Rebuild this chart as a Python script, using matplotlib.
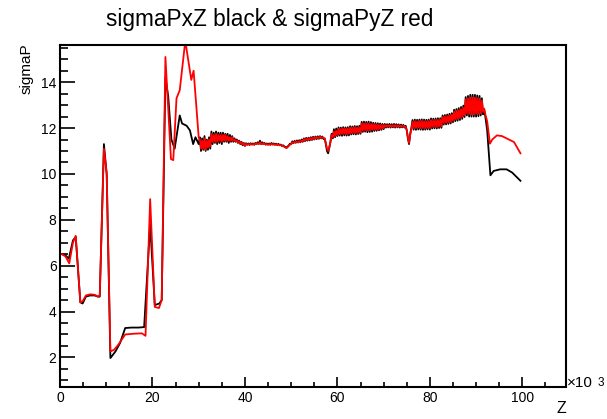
import matplotlib
matplotlib.use("Agg")
import matplotlib.pyplot as plt
import numpy as np
from matplotlib.ticker import MultipleLocator

plt.rcParams['font.family'] = ['Liberation Sans', 'DejaVu Sans']

# --- data (z in units of 10^3) ---
# first part, irregular steps
z_left_black = [0.4, 1.2, 1.9, 2.8, 3.4, 4.4, 4.9, 5.6, 6.5, 7.5, 8.2, 8.6, 9.5, 10.1, 10.9,
                12.0, 13.0, 14.1, 15.5, 17.0, 18.2, 19.5, 20.5, 21.5, 22.0, 22.8, 23.4, 24.1,
                24.8, 25.9, 26.4, 27.4, 28.1, 28.8, 29.3, 30.0]
black_left = [6.5, 6.45, 6.3, 7.1, 7.25, 4.4, 4.35, 4.65, 4.7, 4.7, 4.65, 4.65, 11.3, 10.0, 1.97,
              2.26, 2.63, 3.28, 3.3, 3.3, 3.32, 7.8, 4.28, 4.35, 4.5, 14.2, 13.4, 11.5,
              11.1, 12.55, 12.2, 12.1, 11.9, 11.3, 11.6, 11.3]

z_left_red = [0.4, 1.2, 2.0, 2.8, 3.4, 4.4, 4.9, 5.6, 6.5, 7.5, 8.2, 8.6, 9.5, 10.1, 10.9,
              11.7, 12.6, 14.1, 15.9, 17.7, 18.5, 19.5, 20.5, 21.4, 22.0, 22.8, 24.0, 24.5,
              25.2, 25.9, 26.6, 27.1, 28.4, 28.9, 30.0]
red_left = [6.5, 6.4, 6.1, 7.0, 7.3, 4.4, 4.45, 4.7, 4.75, 4.73, 4.65, 4.7, 11.1, 10.0, 2.26,
            2.33, 2.55, 3.0, 3.03, 3.05, 2.94, 8.9, 4.2, 4.15, 4.5, 15.1, 10.65, 10.6,
            13.3, 13.65, 14.9, 15.8, 14.1, 14.5, 11.6]

# middle part, z = 30.25 ... 92.0 every 0.25
z_mid = np.arange(30.25, 92.01, 0.25)
black_mid = [
    11.6, 11.0, 11.55, 11.05, 11.65, 11.0, 11.5, 11.05, 11.6, 11.1,
    11.85, 11.3, 11.8, 11.35, 11.85, 11.3, 11.8, 11.35, 11.8, 11.3,
    11.8, 11.4, 11.75, 11.4, 11.75, 11.35, 11.7, 11.4, 11.65, 11.4,
    11.55, 11.4, 11.5, 11.35, 11.45, 11.3, 11.4, 11.25, 11.35, 11.22,
    11.34, 11.27, 11.33, 11.26, 11.34, 11.28, 11.33, 11.27, 11.35, 11.3,
    11.38, 11.32, 11.45, 11.3, 11.38, 11.3, 11.35, 11.28, 11.33, 11.28,
    11.33, 11.27, 11.35, 11.28, 11.33, 11.27, 11.32, 11.26, 11.31, 11.25,
    11.28, 11.22, 11.25, 11.2, 11.18, 11.15, 11.2, 11.25, 11.32, 11.3,
    11.42, 11.34, 11.44, 11.36, 11.46, 11.37, 11.47, 11.38, 11.5, 11.4,
    11.55, 11.43, 11.57, 11.45, 11.58, 11.46, 11.6, 11.48, 11.62, 11.5,
    11.63, 11.52, 11.64, 11.53, 11.65, 11.55, 11.63, 11.52, 11.55, 11.3,
    11.0, 10.9, 11.15, 11.4, 11.75, 11.55, 11.95, 11.6, 11.98, 11.65,
    12.03, 11.67, 12.02, 11.66, 12.04, 11.68, 12.03, 11.67, 12.04, 11.68,
    12.08, 11.72, 12.07, 11.73, 12.09, 11.72, 12.08, 11.74, 12.1, 11.75,
    12.27, 11.83, 12.28, 11.84, 12.27, 11.82, 12.28, 11.83, 12.26, 11.84,
    12.23, 11.87, 12.22, 11.88, 12.21, 11.9, 12.2, 11.92, 12.18, 11.95,
    12.18, 12.02, 12.17, 12.03, 12.18, 12.02, 12.17, 12.03, 12.18, 12.02,
    12.17, 12.03, 12.16, 12.02, 12.15, 12.03, 12.14, 12.02, 12.1, 11.9,
    11.55, 11.3, 11.75, 12.0, 12.35, 11.93, 12.37, 11.92, 12.36, 11.94,
    12.37, 11.93, 12.38, 11.92, 12.37, 11.93, 12.36, 11.94, 12.37, 11.93,
    12.42, 11.98, 12.41, 11.99, 12.42, 11.98, 12.43, 12.0, 12.43, 12.01,
    12.55, 12.15, 12.57, 12.16, 12.59, 12.18, 12.62, 12.2, 12.65, 12.25,
    12.8, 12.3, 12.83, 12.32, 12.87, 12.35, 12.92, 12.4, 12.98, 12.48,
    13.35, 12.55, 13.4, 12.5, 13.45, 12.5, 13.45, 12.5, 13.45, 12.5,
    13.42, 12.52, 13.4, 12.55, 13.3, 12.6, 12.8, 12.5]
red_mid = [
    11.5, 11.1, 11.45, 11.1, 11.55, 11.05, 11.45, 11.15, 11.5, 11.2,
    11.75, 11.4, 11.7, 11.4, 11.75, 11.4, 11.7, 11.45, 11.7, 11.4,
    11.7, 11.45, 11.7, 11.45, 11.65, 11.45, 11.6, 11.45, 11.6, 11.45,
    11.5, 11.42, 11.45, 11.38, 11.42, 11.32, 11.38, 11.28, 11.32, 11.24,
    11.31, 11.28, 11.3, 11.27, 11.31, 11.28, 11.3, 11.28, 11.32, 11.3,
    11.33, 11.3, 11.38, 11.3, 11.33, 11.3, 11.32, 11.28, 11.3, 11.27,
    11.3, 11.27, 11.31, 11.28, 11.3, 11.27, 11.29, 11.26, 11.28, 11.25,
    11.26, 11.22, 11.22, 11.18, 11.15, 11.12, 11.17, 11.22, 11.28, 11.3,
    11.38, 11.35, 11.4, 11.37, 11.42, 11.38, 11.43, 11.4, 11.45, 11.42,
    11.52, 11.46, 11.53, 11.48, 11.55, 11.49, 11.56, 11.5, 11.58, 11.52,
    11.6, 11.55, 11.6, 11.56, 11.62, 11.57, 11.6, 11.55, 11.55, 11.35,
    11.1, 11.0, 11.15, 11.4, 11.7, 11.6, 11.85, 11.65, 11.88, 11.7,
    11.97, 11.73, 11.96, 11.74, 11.98, 11.75, 11.97, 11.74, 11.98, 11.75,
    12.02, 11.78, 12.01, 11.79, 12.03, 11.78, 12.02, 11.8, 12.03, 11.8,
    12.2, 11.9, 12.2, 11.9, 12.2, 11.9, 12.2, 11.9, 12.18, 11.92,
    12.17, 11.93, 12.16, 11.94, 12.15, 11.95, 12.14, 11.97, 12.13, 11.99,
    12.13, 12.06, 12.12, 12.07, 12.13, 12.06, 12.12, 12.07, 12.13, 12.06,
    12.12, 12.06, 12.11, 12.06, 12.1, 12.06, 12.1, 12.05, 12.06, 11.92,
    11.6, 11.35, 11.7, 11.95, 12.27, 12.0, 12.3, 12.0, 12.28, 12.02,
    12.3, 12.0, 12.31, 12.0, 12.3, 12.0, 12.29, 12.01, 12.3, 12.0,
    12.35, 12.05, 12.34, 12.06, 12.35, 12.05, 12.36, 12.07, 12.36, 12.08,
    12.48, 12.22, 12.5, 12.23, 12.52, 12.25, 12.55, 12.27, 12.58, 12.32,
    12.72, 12.38, 12.75, 12.4, 12.78, 12.43, 12.83, 12.48, 12.88, 12.56,
    13.25, 12.65, 13.3, 12.62, 13.33, 12.6, 13.33, 12.6, 13.33, 12.62,
    13.3, 12.62, 13.28, 12.65, 13.2, 12.7, 12.85, 12.6]

# last part
z_right_black = [92.4, 93.1, 93.8, 95.2, 96.6, 97.8, 99.6]
black_right = [11.9, 9.94, 10.13, 10.2, 10.2, 10.06, 9.7]
z_right_red = [92.4, 93.0, 93.5, 94.5, 95.6, 97.1, 98.2, 99.6]
red_right = [12.3, 11.32, 11.5, 11.68, 11.65, 11.5, 11.39, 10.9]

z_black = np.concatenate([z_left_black, z_mid, z_right_black])
sig_black = np.concatenate([black_left, black_mid, black_right])
z_red = np.concatenate([z_left_red, z_mid, z_right_red])
sig_red = np.concatenate([red_left, red_mid, red_right])

# --- figure ---
fig = plt.figure(figsize=(6.07, 4.19), dpi=100)
ax = fig.add_axes([60 / 607, 32.5 / 419, 506 / 607, 341 / 419])

ax.plot(z_black, sig_black, color='black', lw=1.3)
ax.plot(z_red, sig_red, color='red', lw=1.3)

ax.set_xlim(0, 109.45)
ax.set_ylim(0.73, 15.6)

ax.xaxis.set_major_locator(MultipleLocator(20))
ax.xaxis.set_minor_locator(MultipleLocator(5))
ax.yaxis.set_major_locator(MultipleLocator(2))
ax.yaxis.set_minor_locator(MultipleLocator(0.5))

ax.tick_params(axis='both', which='both', direction='in', top=False, right=False,
               labelsize=10, width=1.2)
ax.tick_params(axis='y', which='major', length=10.5, pad=2.5)
ax.tick_params(axis='y', which='minor', length=5.5)
ax.tick_params(axis='x', which='major', length=7, pad=3)
ax.tick_params(axis='x', which='minor', length=3.5)
for s in ax.spines.values():
    s.set_linewidth(1.5)

fig.text(270 / 607, 1 - 26 / 419, 'sigmaPxZ black & sigmaPyZ red', fontsize=16.3,
         ha='center', va='baseline')
fig.text(20 / 607, 1 - 43 / 419, 'sigmaP', fontsize=11, rotation=90,
         ha='left', va='top')
fig.text(566 / 607, 1 - 416 / 419, 'Z', fontsize=11.5, ha='right', va='bottom')
fig.text(567 / 607, 1 - 387 / 419, '\u00d710', fontsize=11, ha='left', va='baseline')
fig.text(598 / 607, 1 - 386 / 419, '3', fontsize=8.5, ha='left', va='baseline')

fig.savefig('out.png', dpi=100)
